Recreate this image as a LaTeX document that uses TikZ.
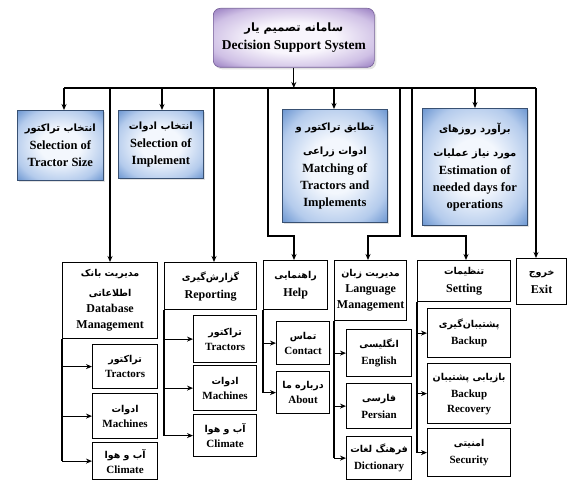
\documentclass[tikz,border=0pt]{standalone}
\usepackage{fontspec}
\setmainfont{Liberation Serif}
\newfontfamily\persianfont[Script=Arabic]{DejaVu Sans}
\TeXXeTstate=1
\usetikzlibrary{arrows.meta,shadows}
\definecolor{bdark}{HTML}{6692CF}
\definecolor{bmid}{HTML}{B4CBEC}
\definecolor{blight}{HTML}{F3F7FD}
\definecolor{pdark}{HTML}{9478BE}
\definecolor{pmid}{HTML}{CFC0E5}
\definecolor{plight}{HTML}{F8F5FC}
\pgfdeclareradialshading{bshade}{\pgfpoint{0bp}{0bp}}{color(0bp)=(blight); color(12bp)=(blight); color(27bp)=(bmid); color(36bp)=(bdark); color(50bp)=(bdark)}
\pgfdeclareradialshading{pshade}{\pgfpoint{0bp}{0bp}}{color(0bp)=(plight); color(13bp)=(plight); color(27bp)=(pmid); color(36bp)=(pdark); color(50bp)=(pdark)}
\newcommand\ptxt[2][9.5]{{\persianfont\fontsize{#1}{13}\selectfont\beginR #2\endR}}
\begin{document}
\begin{tikzpicture}[x=1pt,y=-1pt,
  every node/.style={inner sep=0pt, align=center, font=\bfseries},
  wire/.style={line width=1.2pt, black},
  arr/.style={wire, -{Stealth[length=6pt,width=5pt]}},
  topbox/.style={anchor=north west, draw=pdark!80!black, line width=0.6pt, rounded corners=7pt,
    shade, shading=pshade, drop shadow={shadow xshift=2pt, shadow yshift=-2pt, fill=gray!45},
    font=\bfseries\fontsize{13.5}{16}\selectfont},
  bluebox/.style={anchor=north west, draw=bdark!55!black, line width=0.7pt,
    shade, shading=bshade, drop shadow={shadow xshift=2pt, shadow yshift=-2pt, fill=gray!45},
    font=\bfseries\fontsize{12.5}{17}\selectfont},
  headbox/.style={anchor=north west, draw=black, line width=1.2pt, fill=white,
    font=\bfseries\fontsize{12}{16}\selectfont},
  subbox/.style={anchor=north west, draw=black, line width=1.2pt, fill=white,
    font=\bfseries\fontsize{11}{15}\selectfont}
]
\useasboundingbox[fill=white] (0,0) rectangle (567,481);

% top
\node[topbox, minimum width=161pt, minimum height=59pt] (TOP) at (213,8)
  {\ptxt[11.5]{سامانه تصمیم یار}\\[2pt] Decision Support System};

% first row
\node[bluebox, minimum width=86pt, minimum height=70pt] (A) at (17,110)
  {\ptxt[10]{انتخاب تراکتور}\\[1pt] Selection of\\ Tractor Size};
\node[bluebox, minimum width=85pt, minimum height=68pt] (B) at (118,110)
  {\ptxt[10]{انتخاب ادوات}\\[1pt] Selection of\\ Implement};
\node[bluebox, minimum width=105pt, minimum height=113pt] (C) at (282,109)
  {\ptxt[10]{تطابق تراکتور و}\\[7pt] \ptxt[10]{ادوات زراعی}\\[1pt] Matching of\\ Tractors and\\ Implements};
\node[bluebox, minimum width=105pt, minimum height=117pt] (D) at (422,108)
  {\ptxt[10]{برآورد روزهای}\\[7pt] \ptxt[10]{مورد نیاز عملیات}\\[1pt] Estimation of\\ needed days for\\ operations};

% second row
\node[headbox, minimum width=95pt, minimum height=76pt] (DB) at (62,262)
  {\ptxt{مدیریت بانک}\\[4pt] \ptxt{اطلاعاتی}\\ Database\\ Management};
\node[subbox, minimum width=65pt, minimum height=44pt] (T1) at (92,344)
  {\ptxt{تراکتور}\\ Tractors};
\node[subbox, minimum width=65pt, minimum height=45pt] (M1) at (92,393)
  {\ptxt{ادوات}\\ Machines};
\node[subbox, minimum width=65pt, minimum height=37pt] (C1) at (92,442)
  {\ptxt{آب و هوا}\\ Climate};

\node[headbox, minimum width=92pt, minimum height=47pt] (R) at (164,262)
  {\ptxt{گزارش‌گیری}\\[2pt] Reporting};
\node[subbox, minimum width=63pt, minimum height=47pt] (T2) at (193,315)
  {\ptxt{تراکتور}\\ Tractors};
\node[subbox, minimum width=63pt, minimum height=45pt] (M2) at (193,365)
  {\ptxt{ادوات}\\ Machines};
\node[subbox, minimum width=63pt, minimum height=42pt] (C2) at (193,414)
  {\ptxt{آب و هوا}\\ Climate};

\node[headbox, minimum width=64pt, minimum height=49pt] (H) at (263,260)
  {\ptxt{راهنمایی}\\[2pt] Help};
\node[subbox, minimum width=53pt, minimum height=43pt] (H1) at (276,321)
  {\ptxt{تماس}\\ Contact};
\node[subbox, minimum width=53pt, minimum height=42pt] (H2) at (276,371)
  {\ptxt{درباره ما}\\ About};

\node[headbox, minimum width=72pt, minimum height=60pt] (L) at (334,260)
  {\ptxt{مدیریت زبان}\\ Language\\ Management};
\node[subbox, minimum width=65pt, minimum height=47pt] (L1) at (346,329)
  {\ptxt{انگلیسی}\\[2pt] English};
\node[subbox, minimum width=65pt, minimum height=45pt] (L2) at (346,383)
  {\ptxt{فارسی}\\[2pt] Persian};
\node[subbox, minimum width=65pt, minimum height=43pt] (L3) at (346,436)
  {\ptxt{فرهنگ لغات}\\[2pt] Dictionary};

\node[headbox, minimum width=93pt, minimum height=41pt] (S) at (417,260)
  {\ptxt{تنظیمات}\\[2pt] Setting};
\node[subbox, minimum width=83pt, minimum height=49pt] (S1) at (427,308)
  {\ptxt{پشتیبان‌گیری}\\[2pt] Backup};
\node[subbox, minimum width=83pt, minimum height=60pt] (S2) at (427,363)
  {\ptxt{بازیابی پشتیبان}\\[2pt] Backup\\ Recovery};
\node[subbox, minimum width=83pt, minimum height=48pt] (S3) at (427,428)
  {\ptxt{امنیتی}\\[2pt] Security};

\node[headbox, minimum width=50pt, minimum height=46pt] (E) at (516,258)
  {\ptxt{خروج}\\[2pt] Exit};

% bus
\coordinate (busL) at (64,88);
\coordinate (busR) at (536,88);
\coordinate (kDB) at (110,88);
\coordinate (kB) at (162,88);
\coordinate (kR) at (214,88);
\coordinate (kH) at (268,88);
\coordinate (kC) at (334,88);
\coordinate (kL) at (400,88);
\coordinate (kS) at (412,88);
\coordinate (kD) at (475,88);
\coordinate (jH) at (294,236);
\coordinate (jL) at (368,236);
\coordinate (jS) at (466,236);

\draw[arr] (TOP.south) -- (TOP.south |- busL);
\draw[wire] (busL) -- (busR);
\draw[arr] (busL) -- (busL |- A.north);
\draw[arr] (kB) -- (kB |- B.north);
\draw[arr] (kC) -- (kC |- C.north);
\draw[arr] (kD) -- (kD |- D.north);
\draw[arr] (kDB) -- (kDB |- DB.north);
\draw[arr] (kR) -- (kR |- R.north);
\draw[arr] (kH) |- (jH) -- (jH |- H.north);
\draw[arr] (kL) |- (jL) -- (jL |- L.north);
\draw[arr] (kS) |- (jS) -- (jS |- S.north);
\draw[arr] (busR) -- (busR |- E.north);

% feeders
\draw[wire] (DB.south west) -- (DB.south west |- C1.west);
\foreach \n in {T1,M1,C1} \draw[arr] (DB.south west |- \n.west) -- (\n.west);
\draw[wire] (R.south west) -- (R.south west |- C2.west);
\foreach \n in {T2,M2,C2} \draw[arr] (R.south west |- \n.west) -- (\n.west);
\draw[wire] (H.south west) -- (H.south west |- H2.west);
\foreach \n in {H1,H2} \draw[arr] (H.south west |- \n.west) -- (\n.west);
\draw[wire] (L.south west) -- (L.south west |- L3.west);
\foreach \n in {L1,L2,L3} \draw[arr] (L.south west |- \n.west) -- (\n.west);
\draw[wire] (S.south west) -- (S.south west |- S3.west);
\foreach \n in {S1,S2,S3} \draw[arr] (S.south west |- \n.west) -- (\n.west);
\end{tikzpicture}
\end{document}
